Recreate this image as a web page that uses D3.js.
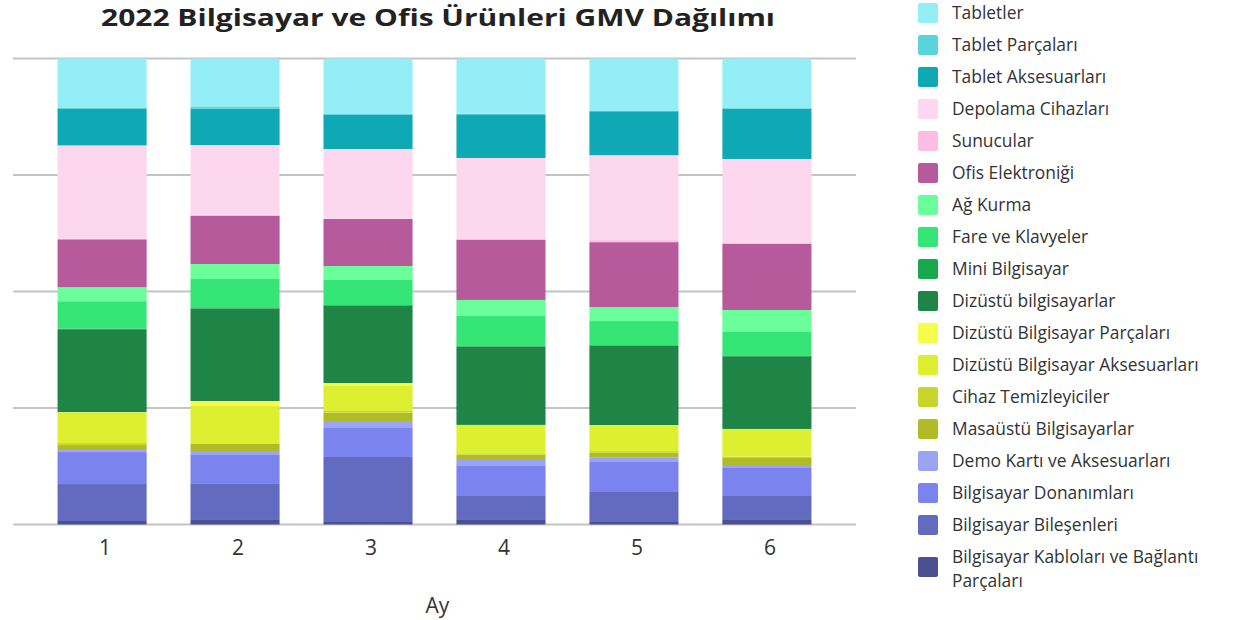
<!DOCTYPE html>
<html>
<head>
<meta charset="utf-8">
<script src="https://cdn.jsdelivr.net/npm/d3@7"></script>
<style>
  html, body { margin: 0; padding: 0; background: #fff; }
  svg { display: block; }
</style>
</head>
<body>
<svg id="chart" width="1241" height="620"></svg>
<script>
// ---- DATA ----
const months = ["1", "2", "3", "4", "5", "6"];

// series names, top of the stack first (legend order)
const seriesNames = [
  "Tabletler",
  "Tablet Parçaları",
  "Tablet Aksesuarları",
  "Depolama Cihazları",
  "Sunucular",
  "Ofis Elektroniği",
  "Ağ Kurma",
  "Fare ve Klavyeler",
  "Mini Bilgisayar",
  "Dizüstü bilgisayarlar",
  "Dizüstü Bilgisayar Parçaları",
  "Dizüstü Bilgisayar Aksesuarları",
  "Cihaz Temizleyiciler",
  "Masaüstü Bilgisayarlar",
  "Demo Kartı ve Aksesuarları",
  "Bilgisayar Donanımları",
  "Bilgisayar Bileşenleri",
  "Bilgisayar Kabloları ve Bağlantı Parçaları"
];

const seriesColors = [
  "#93eff5", "#59d3dc", "#0fa8b5", "#fdd7ee", "#fdbde3", "#b65a9c",
  "#6bff9b", "#35e676", "#18a84e", "#1e8546", "#f4ff4c", "#dcef31",
  "#c8d62c", "#b0bc26", "#9ba3f5", "#7b83ee", "#626bbf", "#4a5092"
];

// share (%) per month, one array per series, same order as seriesNames
const tabletler        = [10.62, 10.41, 11.91, 11.85, 11.27, 10.62];
const tabletParcalari  = [0.11, 0.36, 0.11, 0.13, 0.06, 0.15];
const tabletAksesuar   = [7.94, 7.79, 7.40, 9.38, 9.44, 10.79];
const depolama         = [20.02, 14.96, 14.96, 17.38, 18.24, 18.03];
const sunucular        = [0.15, 0.28, 0.06, 0.15, 0.43, 0.15];
const ofisElektronigi  = [10.30, 10.30, 10.09, 12.94, 13.95, 14.23];
const agKurma          = [3.00, 3.22, 3.00, 3.43, 3.00, 4.72];
const fareKlavye       = [5.86, 6.22, 5.36, 6.44, 5.15, 5.15];
const miniBilgisayar   = [0.15, 0.11, 0.15, 0.15, 0.11, 0.06];
const dizustu          = [17.81, 19.85, 16.59, 16.80, 17.06, 15.60];
const dizustuParca     = [0.15, 1.07, 0.64, 0.02, 0.02, 0.02];
const dizustuAksesuar  = [6.50, 8.00, 5.36, 6.22, 5.58, 5.94];
const cihazTemizleyici = [0.43, 0.15, 0.36, 0.15, 0.36, 0.13];
const masaustu         = [1.07, 1.50, 2.00, 1.14, 1.07, 1.65];
const demoKarti        = [0.43, 0.86, 1.29, 1.29, 0.92, 0.64];
const donanim          = [6.87, 6.22, 6.22, 6.44, 6.44, 6.01];
const bilesen          = [7.94, 7.73, 13.95, 5.15, 6.44, 5.15];
const kablolar         = [0.75, 0.97, 0.54, 0.97, 0.54, 0.97];

const seriesValues = [
  tabletler, tabletParcalari, tabletAksesuar, depolama, sunucular, ofisElektronigi,
  agKurma, fareKlavye, miniBilgisayar, dizustu, dizustuParca, dizustuAksesuar,
  cihazTemizleyici, masaustu, demoKarti, donanim, bilesen, kablolar
];

const yTicks = [0, 0.25, 0.5, 0.75, 1];

// ---- BUILD TABLE ----
const rows = months.map((m, i) => {
  const r = { month: m };
  seriesNames.forEach((s, j) => { r[s] = seriesValues[j][i]; });
  return r;
});

// stack bottom-first: reverse of legend order
const stackKeys = seriesNames.slice().reverse();
const stacked = d3.stack().keys(stackKeys).offset(d3.stackOffsetExpand)(rows);

const colorScale = d3.scaleOrdinal().domain(seriesNames).range(seriesColors);

// ---- LAYOUT ----
const svg = d3.select("#chart");
const plotLeft = 13, plotRight = 856, plotTop = 58.5, plotBottom = 524.5;

const x = d3.scaleBand().domain(months).range([plotLeft, plotRight]).paddingInner(0.33).paddingOuter(0.335);
const y = d3.scaleLinear().domain([0, 1]).range([plotBottom, plotTop]);

// gridlines
svg.append("g").selectAll("line").data(yTicks).join("line")
  .attr("x1", plotLeft).attr("x2", plotRight)
  .attr("y1", d => y(d)).attr("y2", d => y(d))
  .attr("stroke", "#c4c4c4").attr("stroke-width", 2);

// bars
const topKey = seriesNames[0];
const r = 3;
svg.append("g").selectAll("g").data(stacked).join("g")
  .attr("fill", d => colorScale(d.key))
  .each(function(layer) {
    const g = d3.select(this);
    layer.forEach((seg, i) => {
      const x0 = x(months[i]), w = x.bandwidth();
      const yTop = y(seg[1]), yBot = y(seg[0]);
      const h = yBot - yTop;
      if (h <= 0) return;
      if (layer.key === topKey) {
        const p = d3.path();
        p.moveTo(x0, yBot);
        p.lineTo(x0, yTop + r);
        p.arcTo(x0, yTop, x0 + r, yTop, r);
        p.lineTo(x0 + w - r, yTop);
        p.arcTo(x0 + w, yTop, x0 + w, yTop + r, r);
        p.lineTo(x0 + w, yBot);
        p.closePath();
        g.append("path").attr("d", p.toString());
      } else {
        g.append("rect").attr("x", x0).attr("y", yTop).attr("width", w).attr("height", h);
      }
    });
  });

// x axis labels
const xAxis = d3.axisBottom(x).tickSize(0).tickPadding(16);
const xg = svg.append("g").attr("transform", `translate(3,${plotBottom})`).call(xAxis);
xg.select(".domain").remove();
xg.selectAll("text")
  .attr("font-family", "'Open Sans', sans-serif")
  .attr("font-size", 21)
  .attr("fill", "#333");

// axis title
svg.append("text")
  .attr("x", (plotLeft + plotRight) / 2 + 3).attr("y", 613)
  .attr("text-anchor", "middle")
  .attr("font-family", "'Open Sans', sans-serif")
  .attr("font-size", 21).attr("fill", "#333")
  .text("Ay");

// title
svg.append("text")
  .attr("x", 438).attr("y", 26)
  .attr("text-anchor", "middle")
  .attr("font-family", "'Open Sans', sans-serif")
  .attr("font-weight", "bold")
  .attr("font-size", 24).attr("fill", "#222")
  .attr("textLength", 674).attr("lengthAdjust", "spacingAndGlyphs")
  .text("2022 Bilgisayar ve Ofis Ürünleri GMV Dağılımı");

// legend
const legend = svg.append("g").attr("font-family", "'Open Sans', sans-serif").attr("font-size", 17.4).attr("fill", "#333");
const legendX = 918, legendY0 = 13, legendStep = 32;
seriesNames.forEach((name, i) => {
  const cy = legendY0 + i * legendStep;
  const twoLine = name === "Bilgisayar Kabloları ve Bağlantı Parçaları";
  const sqCy = twoLine ? cy + 10 : cy;
  legend.append("rect")
    .attr("x", legendX).attr("y", sqCy - 10).attr("width", 20).attr("height", 20)
    .attr("rx", 2).attr("fill", colorScale(name));
  if (twoLine) {
    const t = legend.append("text").attr("x", 952).attr("y", cy).attr("dy", "0.35em");
    t.append("tspan").attr("x", 952).text("Bilgisayar Kabloları ve Bağlantı");
    t.append("tspan").attr("x", 952).attr("dy", 24).text("Parçaları");
  } else {
    legend.append("text").attr("x", 952).attr("y", cy).attr("dy", "0.35em").text(name);
  }
});
</script>
</body>
</html>
